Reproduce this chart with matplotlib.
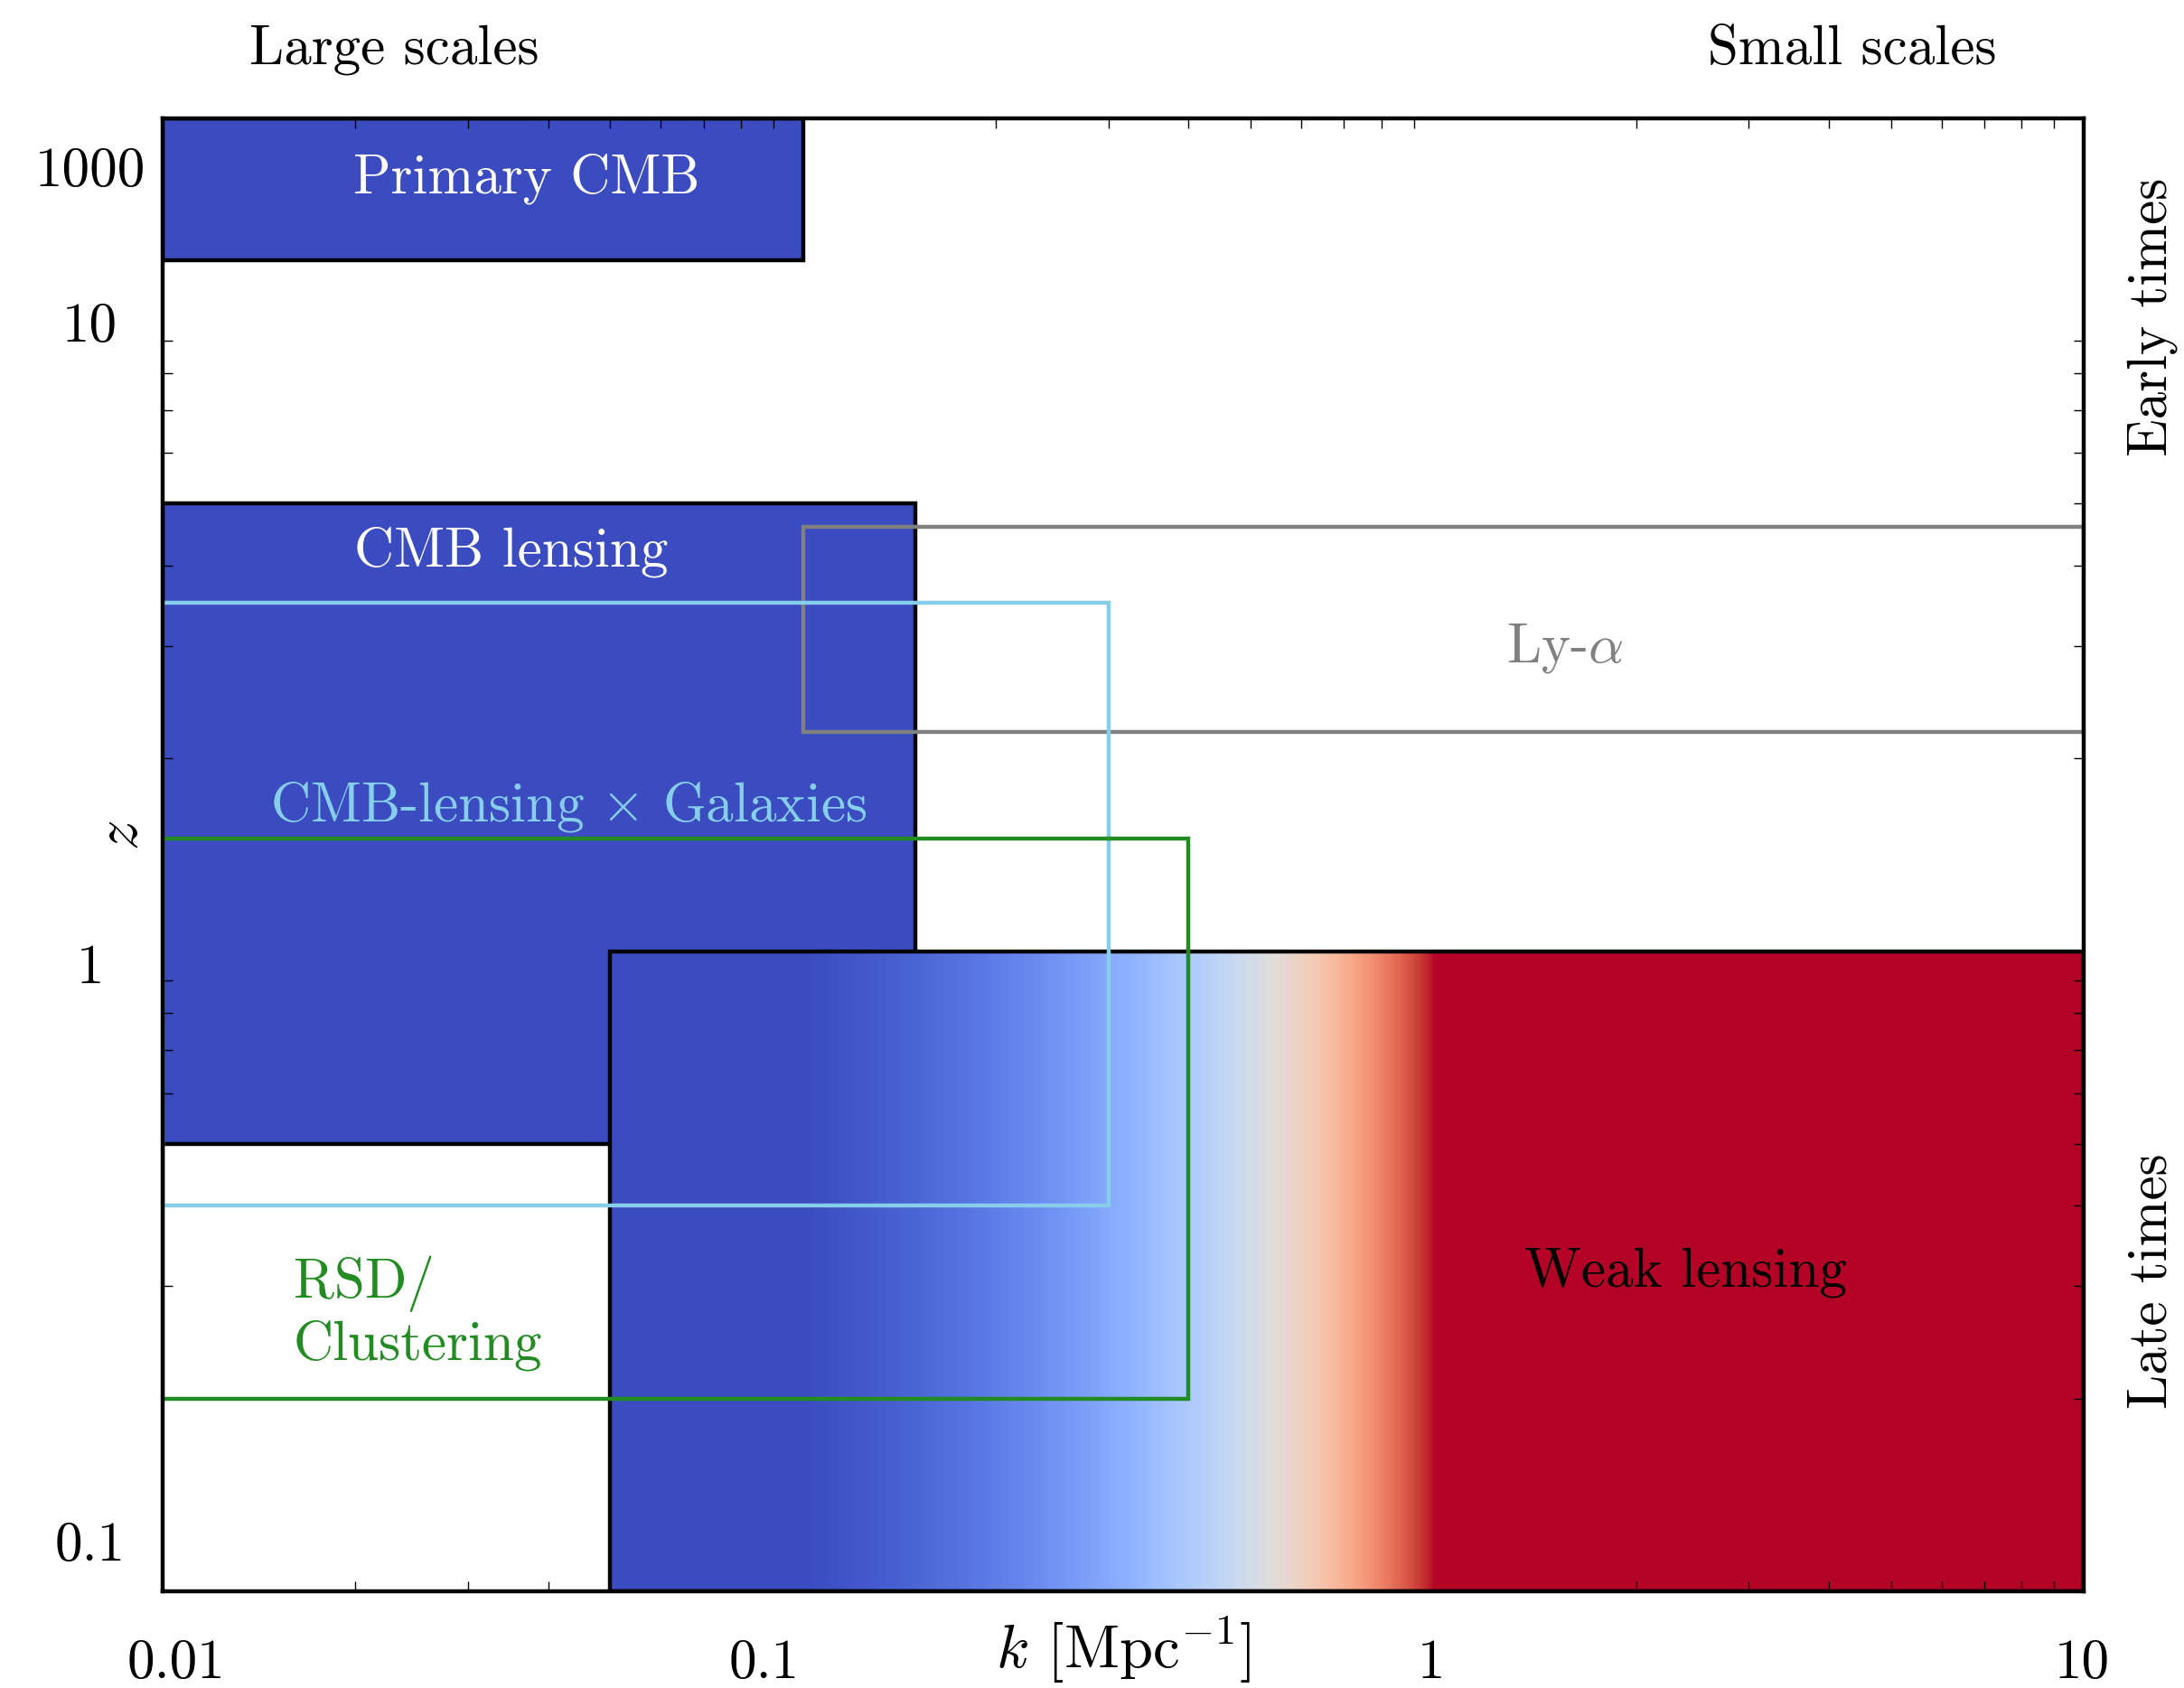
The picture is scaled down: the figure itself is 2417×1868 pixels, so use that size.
import numpy as np
import matplotlib
matplotlib.use("Agg")
import matplotlib.pyplot as plt
from matplotlib.patches import Rectangle
from matplotlib.ticker import NullFormatter

plt.rcParams.update({
    'font.family': ['cmr10', 'DejaVu Serif'],
    'mathtext.fontset': 'cm',
    'axes.formatter.use_mathtext': True,
    'axes.unicode_minus': False,
    'font.size': 22,
})

# axis ranges: k [Mpc^-1] and z
k_lim = [0.01, 10]
z_lim = [0.1, 20]

# k / z extent of each probe
cmb_k = [0.01, 0.1]
cmb_z = [12, 20]
cmbl_k = [0.01, 0.15]
cmbl_z = [0.5, 5]
wl_k = [0.05, 10]
wl_z = [0.1, 1.0]
wl_grad_k = [0.1, 0.97]   # colour goes blue -> red linearly in k over this range
lya_k = [0.1, 10]
lya_z = [2.2, 4.6]
xgal_k = [0.01, 0.3]
xgal_z = [0.4, 3.5]
rsd_k = [0.01, 0.4]
rsd_z = [0.2, 1.5]

# tick labels sit where the original put them
xtick_vals = [0.0105, 0.087, 0.958, 9.94]
xtick_labels = ['0.01', '0.1', '1', '10']
ytick_vals = [0.12, 0.955, 9.6, 16.8]
ytick_labels = ['0.1', '1', '10', '1000']

cmap = plt.get_cmap('coolwarm')
blue = cmap(0.0)
red = cmap(1.0)

fig = plt.figure(figsize=(12.085, 9.34), dpi=200)
ax = fig.add_axes([0.0745, 0.0573, 0.8795, 0.8726])
ax.set_xscale('log')
ax.set_yscale('log')
ax.set_xlim(k_lim)
ax.set_ylim(z_lim)


def box(kk, zz, **kw):
    r = Rectangle((kk[0], zz[0]), kk[1] - kk[0], zz[1] - zz[0], **kw)
    ax.add_patch(r)
    return r


# filled probes
box(cmbl_k, cmbl_z, facecolor=blue, edgecolor='k', lw=1.6, zorder=1)
box(cmb_k, cmb_z, facecolor=blue, edgecolor='k', lw=1.6, zorder=1)

# weak lensing: gradient part sits above the ticks, the red tail below
box([1.0, wl_k[1]], wl_z, facecolor=red, edgecolor='none', zorder=1)
kg = np.geomspace(wl_k[0], 1.0, 400)
kc = 0.5 * (kg[:-1] + kg[1:])
shade = np.clip((kc - wl_grad_k[0]) / (wl_grad_k[1] - wl_grad_k[0]), 0, 1)
ax.pcolormesh(kg, wl_z, shade[None, :], cmap='coolwarm', vmin=0, vmax=1,
              shading='flat', antialiased=False, linewidth=0, zorder=3)
box(wl_k, wl_z, facecolor='none', edgecolor='k', lw=1.6, zorder=4)

# outline-only probes
box(lya_k, lya_z, facecolor='none', edgecolor='gray', lw=1.6, zorder=5)
box(xgal_k, xgal_z, facecolor='none', edgecolor='skyblue', lw=1.6, zorder=5)
box(rsd_k, rsd_z, facecolor='none', edgecolor='forestgreen', lw=1.6, zorder=5)

# labels
ax.text(0.043, 1.68, r'CMB-lensing$\,\times\,$Galaxies', color='skyblue',
        ha='center', va='center', zorder=6)
ax.text(0.037, 16.1, 'Primary CMB', color='white', ha='center', va='center', zorder=6)
ax.text(0.035, 4.2, 'CMB lensing', color='white', ha='center', va='center', zorder=6)
ax.text(1.55, 2.97, r'Ly-$\alpha$', color='gray', ha='center', va='center', zorder=6)
ax.text(0.0160, 0.272, 'RSD/\nClustering', color='forestgreen',
        ha='left', va='center', zorder=6)
ax.text(2.39, 0.315, 'Weak lensing', color='k', ha='center', va='center', zorder=6)

ax.text(0.023, 25.6, 'Large scales', ha='center', va='center', clip_on=False)
ax.text(4.35, 25.6, 'Small scales', ha='center', va='center', clip_on=False)
ax.text(12.8, 9.8, 'Early times', rotation=90, ha='center', va='center', clip_on=False)
ax.text(12.8, 0.305, 'Late times', rotation=90, ha='center', va='center', clip_on=False)

# axes
ax.set_xticks(xtick_vals, xtick_labels)
ax.set_yticks(ytick_vals, ytick_labels)
ax.xaxis.set_minor_formatter(NullFormatter())
ax.yaxis.set_minor_formatter(NullFormatter())
ax.tick_params(which='both', direction='in', top=True, right=True)
ax.tick_params(which='major', length=0)
ax.tick_params(axis='x', which='major', pad=19)
ax.tick_params(axis='y', which='major', pad=29)
ax.tick_params(which='minor', length=3.8, width=0.5)
for lab in ax.get_yticklabels():
    lab.set_horizontalalignment('center')
for s in ax.spines.values():
    s.set_linewidth(1.6)
    s.set_zorder(7)

ax.set_xlabel(r'$k$ [Mpc$^{-1}$]', fontsize=24)
ax.xaxis.set_label_coords(0.5, -0.016)
ax.set_ylabel(r'$z$', fontsize=24)
ax.yaxis.set_label_coords(-0.007, 0.513)

fig.savefig('out.png', dpi=200)
